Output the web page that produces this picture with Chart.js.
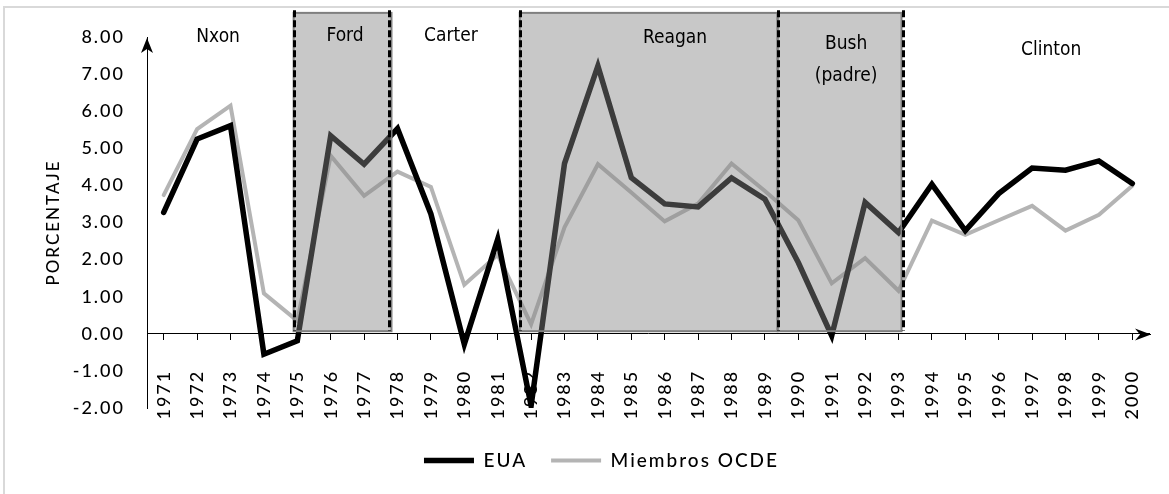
<!DOCTYPE html>
<html>
<head>
<meta charset="utf-8">
<title>Crecimiento del PIB: EUA y miembros de la OCDE, 1971-2000</title>
<script src="https://cdn.jsdelivr.net/npm/chart.js@4.4.1/dist/chart.umd.min.js"></script>
<style>
  html, body { margin: 0; padding: 0; background: #fff; }
  #wrap { width: 1169px; height: 494px; }
</style>
</head>
<body>
<div id="wrap"><canvas id="chart" width="1169" height="494"></canvas></div>
<script>
// Annual growth, percent
const years = ['1971','1972','1973','1974','1975','1976','1977','1978','1979','1980',
               '1981','1982','1983','1984','1985','1986','1987','1988','1989','1990',
               '1991','1992','1993','1994','1995','1996','1997','1998','1999','2000'];
const eua  = [3.27, 5.25, 5.61, -0.55, -0.19, 5.34, 4.57, 5.53, 3.23, -0.28,
              2.55, -1.94, 4.59, 7.22, 4.21, 3.50, 3.42, 4.20, 3.63, 1.92,
              -0.05, 3.54, 2.73, 4.03, 2.78, 3.78, 4.47, 4.41, 4.66, 4.05];
const ocde = [3.74, 5.52, 6.15, 1.09, 0.35, 4.80, 3.72, 4.37, 3.96, 1.32,
              2.13, 0.26, 2.87, 4.57, 3.81, 3.03, 3.51, 4.59, 3.85, 3.06,
              1.36, 2.04, 1.16, 3.05, 2.67, 3.06, 3.45, 2.78, 3.21, 3.99];
const seriesNames = ['EUA', 'Miembros OCDE'];
const yAxisTitle = 'PORCENTAJE';
const presidents = [['Nxon'], ['Ford'], ['Carter'], ['Reagan'], ['Bush', '(padre)'], ['Clinton']];

// Annotation placement, in axis units (x = year, y = percent)
const presidentLabelAt = [[1972.63, 8.0], [1976.43, 8.03], [1979.6, 8.03],
                          [1986.31, 7.97], [1991.43, 7.81], [1997.57, 7.65]];
const shadedTerms = [[1974.89, 1977.82], [1981.66, 1989.38], [1989.38, 1993.09]];
const termBoundaries = [1974.89, 1977.75, 1981.66, 1989.38, 1993.12];
const firstYear = 1971;

const decor = {
  id: 'decor',
  beforeLayout(chart) {
    chart.ctx.letterSpacing = '2px';
  },
  afterLayout(chart) {
    const lg = chart.legend;
    if (!lg) return;
    lg.left += 27; lg.right += 27;
    lg.top += 19; lg.bottom += 19;
  },
  beforeDraw(chart) {
    const ctx = chart.ctx;
    ctx.save();
    ctx.fillStyle = '#ffffff';
    ctx.fillRect(0, 0, chart.width, chart.height);
    ctx.strokeStyle = '#d9d9d9';
    ctx.lineWidth = 2;
    ctx.beginPath();
    ctx.moveTo(4, chart.height);
    ctx.lineTo(4, 7);
    ctx.lineTo(chart.width, 7);
    ctx.stroke();
    ctx.restore();
    ctx.letterSpacing = '2px';
  },
  afterDatasetsDraw(chart) {
    const { ctx, scales: { x, y } } = chart;
    const px = (yr) => x.getPixelForValue(yr - firstYear);
    ctx.save();
    ctx.letterSpacing = '0px';

    // shaded presidential terms
    const top = y.getPixelForValue(8.65);
    const bottom = y.getPixelForValue(0.07);
    shadedTerms.forEach(([a, b]) => {
      const l = px(a), r = px(b);
      ctx.fillStyle = 'rgba(133,133,133,0.45)';
      ctx.fillRect(l, top, r - l, bottom - top);
      ctx.strokeStyle = '#7f7f7f';
      ctx.lineWidth = 2;
      ctx.strokeRect(l, top, r - l, bottom - top);
    });

    // dashed term boundaries
    ctx.strokeStyle = '#000';
    ctx.lineWidth = 3;
    ctx.setLineDash([7, 3]);
    const dTop = y.getPixelForValue(8.72);
    const dBottom = y.getPixelForValue(0.08);
    termBoundaries.forEach((v) => {
      const xx = Math.round(px(v)) + 0.5;
      ctx.beginPath();
      ctx.moveTo(xx, dTop);
      ctx.lineTo(xx, dBottom);
      ctx.stroke();
    });
    ctx.setLineDash([]);

    // president names
    ctx.fillStyle = '#000';
    ctx.font = '19px "DejaVu Sans Condensed", "DejaVu Sans", sans-serif';
    ctx.textAlign = 'center';
    ctx.textBaseline = 'middle';
    presidents.forEach((lines, i) => {
      const [yr, v] = presidentLabelAt[i];
      const cx = px(yr), cy = y.getPixelForValue(v);
      lines.forEach((t, k) => ctx.fillText(t, cx, cy + k * 32));
    });
    ctx.restore();
    ctx.letterSpacing = '4px';
  },
  afterDraw(chart) {
    const { ctx, chartArea, scales: { y } } = chart;
    ctx.save();
    ctx.letterSpacing = '0px';
    ctx.fillStyle = '#000';
    ctx.strokeStyle = '#000';
    ctx.lineWidth = 1;
    // arrow head on the value axis
    const ax = chartArea.left, at = chartArea.top + 1;
    ctx.beginPath();
    ctx.moveTo(ax, at);
    ctx.lineTo(ax - 6, at + 15);
    ctx.lineTo(ax, at + 11);
    ctx.lineTo(ax + 6, at + 15);
    ctx.closePath();
    ctx.fill();
    // arrow head on the category axis
    const y0 = Math.round(y.getPixelForValue(0)) + 0.5;
    const tip = chartArea.right + 2;
    ctx.beginPath();
    ctx.moveTo(chartArea.right, y0);
    ctx.lineTo(tip, y0);
    ctx.stroke();
    ctx.beginPath();
    ctx.moveTo(tip, y0);
    ctx.lineTo(tip - 16, y0 - 6);
    ctx.lineTo(tip - 11, y0);
    ctx.lineTo(tip - 16, y0 + 6);
    ctx.closePath();
    ctx.fill();
    ctx.restore();
  }
};

const tickFont = { family: 'Lato, sans-serif', size: 18, weight: '500' };

new Chart(document.getElementById('chart'), {
  type: 'line',
  data: {
    labels: years,
    datasets: [
      {
        label: seriesNames[0],
        data: eua,
        borderColor: '#000000',
        backgroundColor: '#000000',
        borderWidth: 5.5,
        borderCapStyle: 'round',
        pointRadius: 0,
        tension: 0,
        fill: false
      },
      {
        label: seriesNames[1],
        data: ocde,
        borderColor: '#b4b4b4',
        backgroundColor: '#b4b4b4',
        borderWidth: 4,
        borderCapStyle: 'round',
        pointRadius: 0,
        tension: 0,
        fill: false
      }
    ]
  },
  options: {
    responsive: false,
    animation: false,
    devicePixelRatio: 1,
    layout: { padding: { left: 0, top: 37, right: 20, bottom: 33 } },
    plugins: {
      legend: {
        position: 'bottom',
        labels: {
          usePointStyle: true,
          pointStyle: 'line',
          pointStyleWidth: 50,
          padding: 24,
          color: '#000',
          font: { family: 'Lato, sans-serif', size: 19, weight: '500' }
        }
      },
      tooltip: { enabled: false }
    },
    scales: {
      x: {
        position: { y: 0 },
        offset: true,
        z: 1,
        grid: { drawOnChartArea: false, drawTicks: true, tickLength: 6, color: '#000', lineWidth: 1 },
        border: { display: true, color: '#000', width: 1 },
        ticks: {
          autoSkip: false,
          minRotation: 90,
          maxRotation: 90,
          padding: 30,
          color: '#000',
          font: tickFont
        },
        afterFit: (scale) => { scale.paddingLeft = 0; scale.paddingRight = 0; }
      },
      y: {
        min: -2,
        max: 8,
        grid: { display: false, drawTicks: false },
        border: { display: true, color: '#000', width: 1 },
        ticks: {
          stepSize: 1,
          padding: 22,
          color: '#000',
          font: tickFont,
          callback: (v) => Number(v).toFixed(2)
        },
        title: {
          display: true,
          text: yAxisTitle,
          color: '#000',
          font: { family: 'Lato, sans-serif', size: 17, weight: '500' },
          padding: { top: 43, bottom: 0 }
        },
        afterFit: (scale) => { scale.width = 147; }
      }
    }
  },
  plugins: [decor]
});
</script>
</body>
</html>
